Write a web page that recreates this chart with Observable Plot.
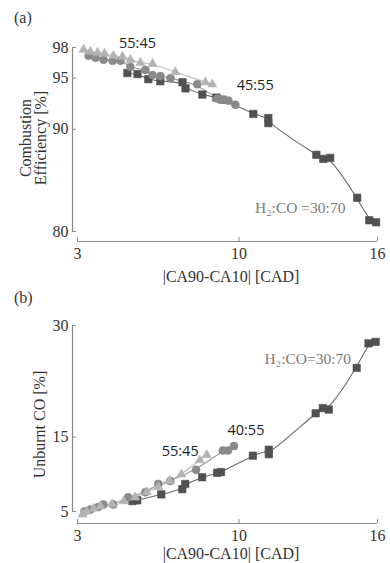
<!DOCTYPE html>
<html><head><meta charset="utf-8">
<script src="https://cdn.jsdelivr.net/npm/d3@7"></script>
<script src="https://cdn.jsdelivr.net/npm/@observablehq/plot@0.6"></script>
<style>
body{margin:0;background:#fff;width:390px;height:563px;overflow:hidden;font-family:"Liberation Serif",serif}
.panel{position:relative;width:390px}
.tag{position:absolute;left:14px;font-size:16px;color:#333;line-height:1}
svg{display:block}
</style></head><body>
<div id="a" class="panel"><div class="tag" style="top:10px">(a)</div></div>
<div id="b" class="panel"><div class="tag" style="top:5px">(b)</div></div>
<script>
// ---- ticks ----
const xTicks = [3, 10, 16];
const effTicks = [80, 90, 95, 98];
const coTicks = [5, 15, 30];

// ---- (a) combustion efficiency ----
const effTriX = [3.26, 3.56, 3.87, 4.17, 4.56, 4.95, 5.29, 5.73, 6.25, 7.24, 8.54, 8.84];
const effTriY = [97.8, 97.6, 97.5, 97.4, 97.2, 97.1, 96.8, 96.5, 96.4, 95.6, 94.6, 94.4];
const effCirX = [3.48, 3.78, 4.13, 4.52, 4.86, 5.29, 5.94, 6.25, 6.59, 7.03, 8.19, 9.06, 9.28, 9.54, 9.84];
const effCirY = [97.2, 97.0, 96.8, 96.7, 96.7, 96.1, 95.8, 95.3, 95.2, 95.0, 94.4, 93.0, 92.9, 92.8, 92.4];
const effSqX = [5.16, 5.60, 6.07, 6.59, 7.55, 7.68, 8.41, 9.02, 9.28, 10.62, 11.27, 11.27, 13.35, 13.65, 13.95, 15.12, 15.64, 15.94];
const effSqY = [95.5, 95.4, 94.9, 94.7, 94.6, 94.0, 93.4, 93.1, 92.9, 91.5, 91.1, 90.6, 87.5, 87.1, 87.2, 83.3, 81.1, 80.9];

// ---- (b) unburnt CO ----
const coTriX = [3.22, 3.4, 3.7, 4.0, 4.5, 5.0, 5.5, 6.0, 6.5, 7.0, 7.5, 8.3, 8.6];
const coTriY = [4.6, 5.0, 5.4, 5.7, 6.0, 6.4, 6.9, 7.6, 8.3, 9.1, 10.0, 11.9, 12.6];
const coCirX = [3.3, 3.56, 3.9, 4.12, 4.55, 5.2, 5.94, 6.5, 7.02, 8.14, 9.3, 9.52, 9.78];
const coCirY = [5.0, 5.27, 5.6, 5.95, 5.95, 6.9, 7.6, 8.7, 9.1, 10.6, 13.2, 13.2, 13.8];
const coSqX = [5.38, 5.59, 6.63, 7.54, 7.67, 8.4, 9.05, 9.22, 10.6, 11.29, 11.29, 13.32, 13.63, 13.89, 15.1, 15.61, 15.92];
const coSqY = [6.4, 6.5, 7.3, 8.0, 8.7, 9.6, 10.2, 10.3, 12.5, 13.3, 12.7, 18.2, 18.9, 18.7, 24.3, 27.6, 27.8];

// ---- annotations ----
const effLabels = [
  {t: "55:45", x: 5.6, y: 98.4, kind: "ratio"},
  {t: "45:55", x: 10.7, y: 94.3, kind: "ratio"},
  {t: "H₂:CO =30:70", x: 12.65, y: 82.3, kind: "main"}
];
const coLabels = [
  {t: "55:45", x: 7.45, y: 13.15, kind: "ratio"},
  {t: "40:55", x: 10.3, y: 15.9, kind: "ratio"},
  {t: "H₂:CO=30:70", x: 12.98, y: 25.5, kind: "main"}
];

const styles = {
  tri: {symbol: "triangle", r: 3.4, fill: "#b3b3b3", line: "#bdbdbd"},
  cir: {symbol: "circle", r: 4, fill: "#8a8a8a", line: "#9a9a9a"},
  sq:  {symbol: "square", r: 4.2, fill: "#515151", line: "#6a6a6a"}
};

function rows(xs, ys, s) { return xs.map((x, i) => ({x, y: ys[i], s})); }

function panel({height, marginTop, yTicks, yRange, axisGap, labelDy, series, labels, ylab, ylabDx}) {
  const yMin = d3.min(yTicks), yMax = d3.max(yTicks);
  const xMin = d3.min(xTicks), xMax = d3.max(xTicks);
  const marks = [];
  marks.push(Plot.ruleX([xMin], {y1: yMin, y2: yMax, dx: -5, stroke: "#8a8a8a", strokeWidth: 1.2}));
  marks.push(Plot.ruleY([yMin], {x1: xMin, x2: xMax, dy: axisGap, stroke: "#8a8a8a", strokeWidth: 1.2}));
  marks.push(Plot.axisY({ticks: yTicks, tickSize: -4, tickPadding: 8, tickFormat: d => String(d), label: null, stroke: "#8a8a8a", fill: "#333", fontSize: 16}));
  marks.push(Plot.axisX({ticks: xTicks, tickSize: -4, tickPadding: 10, tickFormat: d => String(d), label: null, stroke: "#8a8a8a", fill: "#333", fontSize: 16}));
  for (const [key, data] of series) {
    const st = styles[key];
    const sorted = data.slice().sort((a, b) => a.x - b.x);
    marks.push(Plot.line(sorted, {x: "x", y: "y", curve: "basis", stroke: st.line, strokeWidth: 1.1}));
  }
  for (const [key, data] of series) {
    const st = styles[key];
    marks.push(Plot.dot(data, {x: "x", y: "y", symbol: st.symbol, r: st.r, fill: st.fill, stroke: st.fill, strokeWidth: 0.6}));
  }
  marks.push(Plot.text(labels.filter(d => d.kind === "ratio"), {x: "x", y: "y", text: "t", fontFamily: "Open Sans", fontSize: 14.5, fill: "#222"}));
  marks.push(Plot.text(labels.filter(d => d.kind === "main"), {x: "x", y: "y", text: "t", fontFamily: "Liberation Serif", fontSize: 15.5, fill: "#7a7a7a"}));
  marks.push(Plot.text([ylab], {frameAnchor: "left", textAnchor: "middle", lineAnchor: "middle", rotate: -90, dx: ylabDx, text: d => d, fontSize: 16, fill: "#333", lineHeight: 0.95}));
  marks.push(Plot.text(["|CA90-CA10| [CAD]"], {frameAnchor: "bottom", textAnchor: "middle", lineAnchor: "middle", dx: 6, dy: labelDy, text: d => d, fontSize: 16, fill: "#333"}));
  return Plot.plot({
    width: 390, height,
    marginLeft: 72, marginRight: 13, marginTop, marginBottom: height - (yRange[0] + axisGap),
    x: {domain: [xMin, xMax], range: [77, 377]},
    y: {domain: [yMin, yMax], range: yRange},
    style: {fontFamily: "Liberation Serif", fontSize: "16px", background: "white", color: "#333"},
    marks
  });
}

document.getElementById("a").appendChild(panel({
  height: 285, marginTop: 34, yTicks: effTicks, yRange: [231, 47], axisGap: 10, labelDy: 35,
  series: [["sq", rows(effSqX, effSqY, "sq")], ["cir", rows(effCirX, effCirY, "cir")], ["tri", rows(effTriX, effTriY, "tri")]],
  labels: effLabels, ylab: "Combustion\nEfficiency [%]", ylabDx: -39
}));
document.getElementById("b").appendChild(panel({
  height: 278, marginTop: 40, yTicks: coTicks, yRange: [226, 40], axisGap: 12, labelDy: 30,
  series: [["sq", rows(coSqX, coSqY, "sq")], ["cir", rows(coCirX, coCirY, "cir")], ["tri", rows(coTriX, coTriY, "tri")]],
  labels: coLabels, ylab: "Unburnt CO [%]", ylabDx: -32
}));
</script>
</body></html>
